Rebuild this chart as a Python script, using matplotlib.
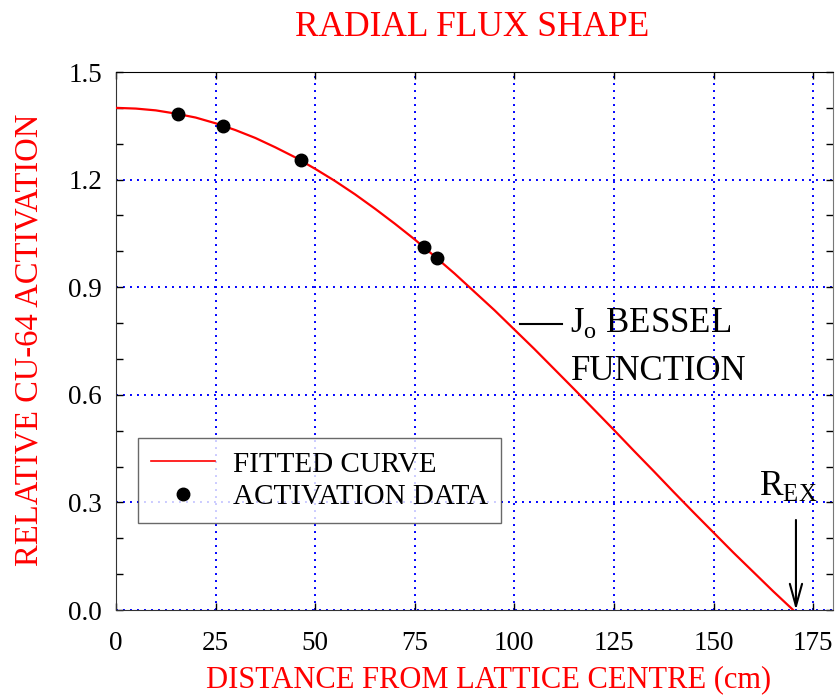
import matplotlib
matplotlib.use("Agg")
import matplotlib.pyplot as plt
from matplotlib.ticker import MultipleLocator

plt.rcParams['font.family'] = ['Liberation Serif', 'DejaVu Serif']
plt.rcParams['mathtext.fontset'] = 'custom'
plt.rcParams['mathtext.rm'] = 'Liberation Serif'

# Fitted J0 Bessel curve, values read at 5 cm steps
curve_r = [0, 5, 10, 15, 20, 25, 30, 35, 40, 45, 50, 55, 60, 65, 70, 75, 80, 85,
           90, 95, 100, 105, 110, 115, 120, 125, 130, 135, 140, 145, 150, 155,
           160, 165, 170]
curve_y = [1.400, 1.398, 1.393, 1.384, 1.373, 1.357, 1.338, 1.316, 1.290, 1.262,
           1.230, 1.196, 1.159, 1.119, 1.077, 1.033, 0.986, 0.938, 0.887, 0.836,
           0.782, 0.728, 0.672, 0.616, 0.559, 0.502, 0.444, 0.387, 0.329, 0.272,
           0.216, 0.160, 0.106, 0.052, 0.000]

# Activation data points
data_r = [15.5, 26.8, 46.4, 77.4, 80.5]
data_y = [1.383, 1.349, 1.254, 1.012, 0.981]

r_ex = 170.7

xticks = [0, 25, 50, 75, 100, 125, 150, 175]
yticks = [0.0, 0.3, 0.6, 0.9, 1.2, 1.5]

fig = plt.figure(figsize=(8.35, 6.96), dpi=100)
ax = fig.add_axes([116/835, 1 - 610/696, (833-116)/835, (610-72)/696])

ax.plot(curve_r, curve_y, color='red', lw=1.6, label='FITTED CURVE', zorder=3)
ax.plot(data_r, data_y, 'o', color='black', ms=9, label='ACTIVATION DATA', zorder=4)

ax.set_xlim(0, 180)
ax.set_ylim(0, 1.5)
ax.set_xticks(xticks)
ax.set_yticks(yticks)
ax.set_xticklabels([str(t) for t in xticks])
ax.set_yticklabels([f"{t:.1f}" for t in yticks])
ax.yaxis.set_minor_locator(MultipleLocator(0.1))
ax.tick_params(axis='both', which='both', direction='in', top=True, right=True,
               labelsize=19.5, colors='black')
ax.tick_params(which='major', length=5, width=1)
ax.tick_params(which='minor', length=5, width=1)
ax.tick_params(axis='x', pad=15)
ax.tick_params(axis='y', pad=10)
ax.grid(True, which='major', color='blue', linestyle=(0, (1, 2.6)), lw=1.4)

for s in ['left', 'bottom']:
    ax.spines[s].set_color('#333333')
ax.spines['right'].set_color('#777777')

ax.set_xlabel('DISTANCE FROM LATTICE CENTRE (cm)', color='red', fontsize=22)
ax.xaxis.set_label_coords((489-116)/717, -(680-610)/538)
ax.xaxis.label.set_va('center')
ax.set_ylabel('RELATIVE CU-64 ACTIVATION', color='red', fontsize=23.5)
ax.yaxis.set_label_coords(-(116-29)/717, (610-340)/538)
ax.yaxis.label.set_va('center')
fig.text(472.5/835, 1 - 27/696, 'RADIAL FLUX SHAPE', color='red', fontsize=25.5,
         ha='center', va='center')

leg = ax.legend(loc='upper left', bbox_to_anchor=((138-116)/717, (610-438)/538),
                fontsize=21, frameon=True, fancybox=False, edgecolor='#444444',
                handlelength=2.2, borderpad=0.45, labelspacing=0.2, handletextpad=0.6,
                borderaxespad=0)
leg.get_frame().set_linewidth(1.0)
leg.get_lines()[0].set_linewidth(1.2)

# Bessel label
ax.plot([101.3, 112], [0.797, 0.797], color='black', lw=1.5, zorder=5)
ax.text(114.1, 0.799, r'J$_\mathrm{o}$ BESSEL', fontsize=25, va='center', ha='left')
ax.text(114.1, 0.666, 'FUNCTION', fontsize=25, va='center', ha='left')

# R_EX arrow
ax.annotate('', xy=(r_ex, 0.0), xytext=(r_ex, 0.251),
            arrowprops=dict(arrowstyle='->, head_length=0.8, head_width=0.22',
                            color='black', lw=1.5, mutation_scale=20,
                            shrinkA=0, shrinkB=0),
            annotation_clip=False)
ax.text(161.5, 0.345, r'R$_\mathrm{EX}$', fontsize=25.5, va='center', ha='left')

fig.savefig('out.png', dpi=100)
